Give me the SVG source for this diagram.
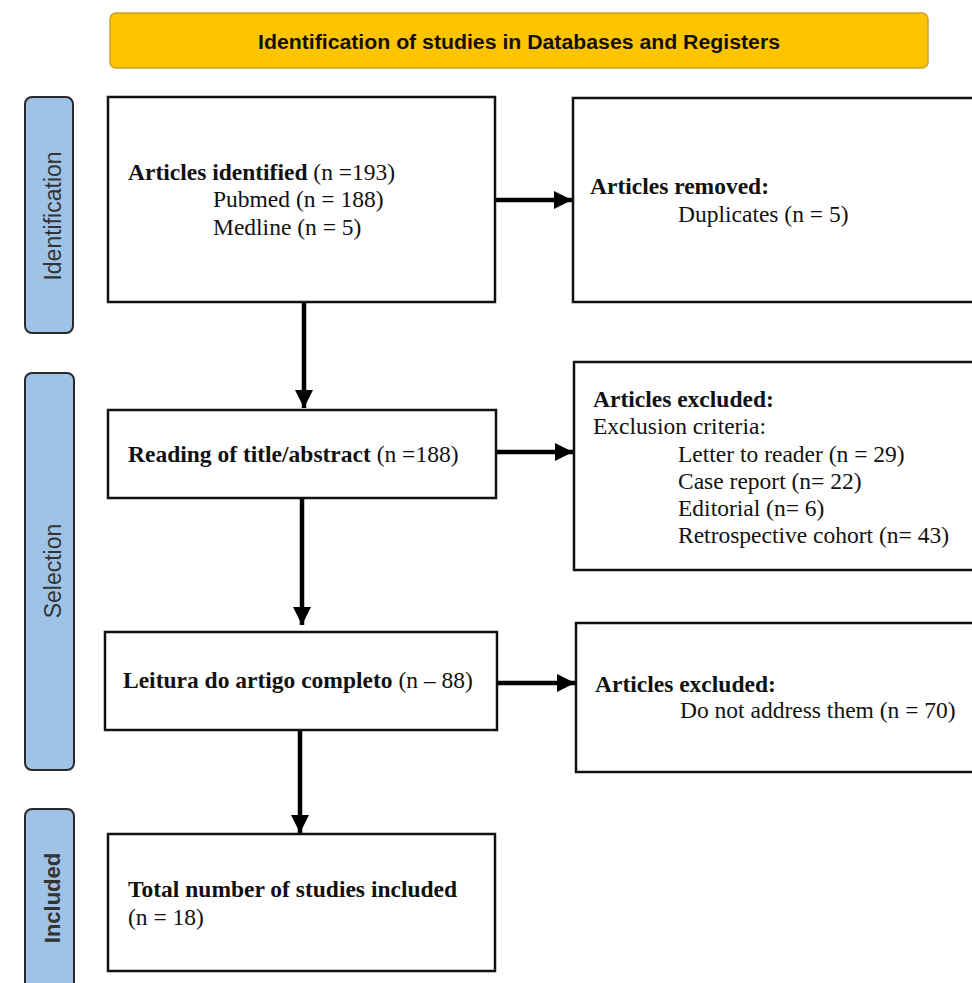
<svg xmlns="http://www.w3.org/2000/svg" width="972" height="983" viewBox="0 0 972 983">
<defs>
<style>
.box{fill:#fff;stroke:#111;stroke-width:2.5}
.side{fill:#9fc3e7;stroke:#2a2a2a;stroke-width:2}
.side-t{font-family:"Liberation Sans",Arial,sans-serif;font-size:23px;fill:#333;text-anchor:middle}
.t{font-family:"Liberation Serif","Times New Roman",serif;font-size:23.5px;fill:#111}
.b{font-weight:bold}
.conn{stroke:#000;stroke-width:4.5;fill:none}
</style>
<marker id="ah" viewBox="0 0 10 10" refX="10" refY="5" markerUnits="userSpaceOnUse" markerWidth="18" markerHeight="18" orient="auto">
<path d="M0,0 L10,5 L0,10 Z" fill="#000"/>
</marker>
</defs>
<rect width="972" height="983" fill="#fff"/>

<g id="title">
<rect x="110" y="13" width="818" height="55" rx="6" fill="#ffc400" stroke="#c9a227" stroke-width="1.5"/>
<text x="519" y="49" font-family="'Liberation Sans',Arial,sans-serif" font-size="20" font-weight="bold" fill="#111" text-anchor="middle" textLength="522" lengthAdjust="spacingAndGlyphs">Identification of studies in Databases and Registers</text>
</g>

<g id="side-identification">
<rect class="side" x="25" y="97" width="48" height="236" rx="7"/>
<text class="side-t" transform="translate(61,216) rotate(-90)">Identification</text>
</g>
<g id="side-selection">
<rect class="side" x="25" y="373" width="49" height="397" rx="7"/>
<text class="side-t" transform="translate(61,571) rotate(-90)">Selection</text>
</g>
<g id="side-included">
<rect class="side" x="25" y="809" width="49" height="185" rx="7"/>
<text class="side-t b" style="font-size:22px" transform="translate(60,898) rotate(-90)">Included</text>
</g>

<g id="connectors">
<line class="conn" x1="494" y1="200" x2="572" y2="200" marker-end="url(#ah)"/>
<line class="conn" x1="304" y1="302" x2="304" y2="408" marker-end="url(#ah)"/>
<line class="conn" x1="496" y1="452" x2="573" y2="452" marker-end="url(#ah)"/>
<line class="conn" x1="302" y1="498" x2="302" y2="625" marker-end="url(#ah)"/>
<line class="conn" x1="497" y1="683" x2="575" y2="683" marker-end="url(#ah)"/>
<line class="conn" x1="300" y1="730" x2="300" y2="833" marker-end="url(#ah)"/>
</g>

<g id="n-identified">
<rect class="box" x="108" y="97" width="387" height="205"/>
<text class="t" x="128" y="180"><tspan class="b">Articles identified</tspan> (n =193)</text>
<text class="t" x="213" y="207">Pubmed (n = 188)</text>
<text class="t" x="213" y="235">Medline (n = 5)</text>
</g>

<g id="n-removed">
<rect class="box" x="573" y="98" width="420" height="204"/>
<text class="t b" x="590" y="194">Articles removed:</text>
<text class="t" x="678" y="222">Duplicates (n = 5)</text>
</g>

<g id="n-reading">
<rect class="box" x="108" y="410" width="388" height="88"/>
<text class="t" x="128" y="462"><tspan class="b">Reading of title/abstract</tspan> (n =188)</text>
</g>

<g id="n-excluded1">
<rect class="box" x="574" y="362" width="420" height="208"/>
<text class="t b" x="593" y="407">Articles excluded:</text>
<text class="t" x="593" y="434">Exclusion criteria:</text>
<text class="t" x="678" y="462">Letter to reader (n = 29)</text>
<text class="t" x="678" y="489">Case report (n= 22)</text>
<text class="t" x="678" y="516">Editorial (n= 6)</text>
<text class="t" x="678" y="543">Retrospective cohort (n= 43)</text>
</g>

<g id="n-fulltext">
<rect class="box" x="105" y="632" width="392" height="98"/>
<text class="t" x="123" y="688"><tspan class="b">Leitura do artigo completo</tspan> (n – 88)</text>
</g>

<g id="n-excluded2">
<rect class="box" x="576" y="623" width="420" height="149"/>
<text class="t b" x="595" y="692">Articles excluded:</text>
<text class="t" x="680" y="718">Do not address them (n = 70)</text>
</g>

<g id="n-included">
<rect class="box" x="108" y="834" width="387" height="137"/>
<text class="t b" x="128" y="897">Total number of studies included</text>
<text class="t" x="128" y="925">(n = 18)</text>
</g>
</svg>
